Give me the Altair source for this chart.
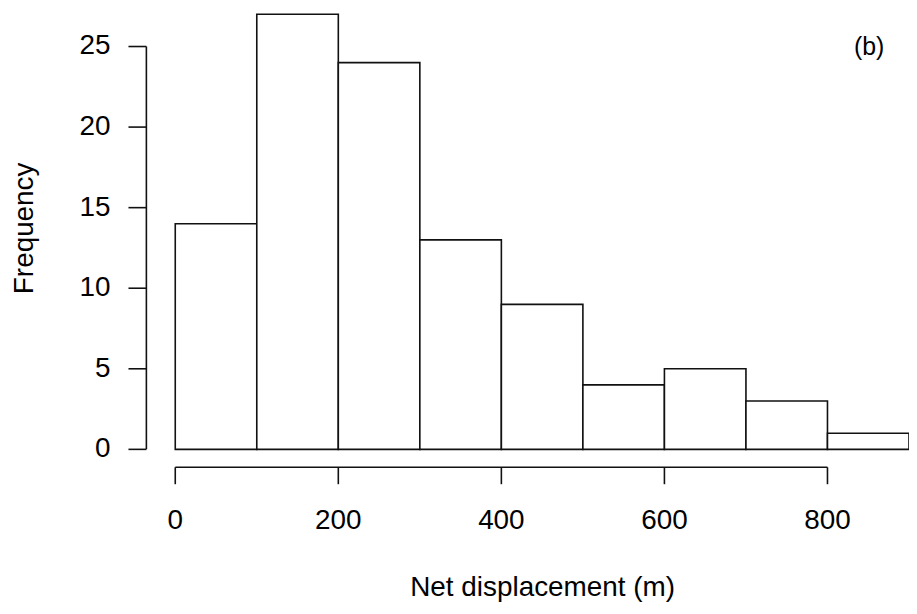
import altair as alt
import pandas as pd

# ---- data ----
bin_start = [0, 100, 200, 300, 400, 500, 600, 700, 800]
bin_end = [100, 200, 300, 400, 500, 600, 700, 800, 900]
counts = [14, 27, 24, 13, 9, 4, 5, 3, 1]
x_ticks = [0, 200, 400, 600, 800]
y_ticks = [0, 5, 10, 15, 20, 25]
x_title = "Net displacement (m)"
y_title = "Frequency"
panel_label = "(b)"

FONT = "Liberation Sans"
LINE = "#111111"
LW = 1.6
FS = 28

bars_df = pd.DataFrame({"start": bin_start, "end": bin_end, "count": counts, "zero": [0] * len(counts)})
xt_df = pd.DataFrame({"tick": x_ticks, "label": [str(v) for v in x_ticks]})
yt_df = pd.DataFrame({"tick": y_ticks, "label": [str(v) for v in y_ticks]})
xaxis_df = pd.DataFrame({"a": [min(x_ticks)], "b": [max(x_ticks)]})
yaxis_df = pd.DataFrame({"a": [min(y_ticks)], "b": [max(y_ticks)]})

xs = alt.Scale(domain=[0, 900], nice=False, zero=False)
ys = alt.Scale(domain=[0, 27], nice=False, zero=False)

bars = alt.Chart(bars_df).mark_rect(fill="white", stroke=LINE, strokeWidth=LW).encode(
    x=alt.X("start:Q", scale=xs, axis=None),
    x2="end:Q",
    y=alt.Y("count:Q", scale=ys, axis=None),
    y2="zero:Q",
)

x_line = alt.Chart(xaxis_df).mark_rule(color=LINE, strokeWidth=LW).encode(
    x=alt.X("a:Q", scale=xs, axis=None), x2="b:Q", y=alt.value(455)
)
x_tick_marks = alt.Chart(xt_df).mark_rule(color=LINE, strokeWidth=LW).encode(
    x=alt.X("tick:Q", scale=xs, axis=None), y=alt.value(455), y2=alt.value(472)
)
x_labels = alt.Chart(xt_df).mark_text(
    font=FONT, fontSize=FS, color="black", baseline="alphabetic", align="center"
).encode(x=alt.X("tick:Q", scale=xs, axis=None), y=alt.value(517), text="label:N")

y_line = alt.Chart(yaxis_df).mark_rule(color=LINE, strokeWidth=LW).encode(
    y=alt.Y("a:Q", scale=ys, axis=None), y2="b:Q", x=alt.value(-29)
)
y_tick_marks = alt.Chart(yt_df).mark_rule(color=LINE, strokeWidth=LW).encode(
    y=alt.Y("tick:Q", scale=ys, axis=None), x=alt.value(-47), x2=alt.value(-29)
)
y_labels = alt.Chart(yt_df).mark_text(
    font=FONT, fontSize=FS, color="black", baseline="middle", align="right"
).encode(y=alt.Y("tick:Q", scale=ys, axis=None), x=alt.value(-65), text="label:N")

titles_df = pd.DataFrame({"xt": [x_title], "yt": [y_title], "pl": [panel_label]})
x_title_mark = alt.Chart(titles_df).mark_text(
    font=FONT, fontSize=FS, color="black", baseline="alphabetic", align="center"
).encode(x=alt.value(369), y=alt.value(584), text="xt:N")
y_title_mark = alt.Chart(titles_df).mark_text(
    font=FONT, fontSize=FS, color="black", baseline="alphabetic", align="center", angle=270
).encode(x=alt.value(-143), y=alt.value(215), text="yt:N")
panel_mark = alt.Chart(titles_df).mark_text(
    font=FONT, fontSize=25, color="black", baseline="alphabetic", align="center"
).encode(x=alt.value(697), y=alt.value(41), text="pl:N")

chart = alt.layer(
    bars, x_line, x_tick_marks, x_labels, y_line, y_tick_marks, y_labels,
    x_title_mark, y_title_mark, panel_mark,
).properties(
    width=737,
    height=437,
    background="white",
    autosize=alt.AutoSizeParams(type="none"),
    padding={"left": 168, "top": 5, "right": 0, "bottom": 152},
).configure_view(strokeWidth=0)

chart.save("out.html", embed_options={"renderer": "svg", "actions": False})
